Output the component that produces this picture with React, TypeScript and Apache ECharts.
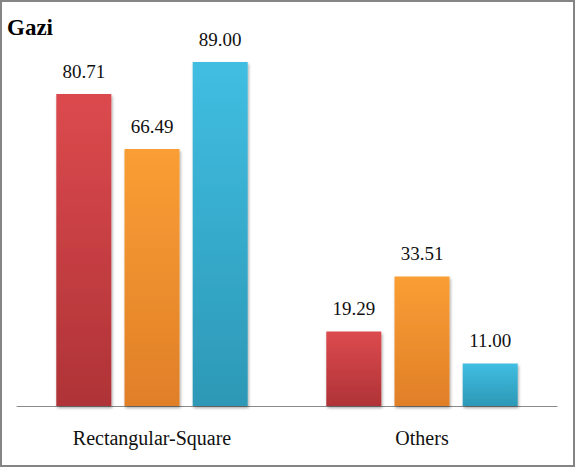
import React, { useEffect, useRef } from "react";
import * as echarts from "echarts";

const categories = ["Rectangular-Square", "Others"];
const seriesRed = [80.71, 19.29];
const seriesOrange = [66.49, 33.51];
const seriesBlue = [89.0, 11.0];

const grad = (top: string, bottom: string) =>
  new echarts.graphic.LinearGradient(0, 0, 0, 1, [
    { offset: 0, color: top },
    { offset: 1, color: bottom },
  ]);

export default function App() {
  const ref = useRef<HTMLDivElement>(null);
  useEffect(() => {
    if (!ref.current) return;
    const chart = echarts.init(ref.current, undefined, { renderer: "svg" });
    const font = "'Liberation Serif', 'Times New Roman', serif";
    const label = {
      show: true,
      position: "top" as const,
      distance: 13,
      fontFamily: font,
      fontSize: 19,
      color: "#111",
      formatter: (p: any) => Number(p.value).toFixed(2),
    };
    const mk = (name: string, data: number[], top: string, bottom: string) => ({
      name,
      type: "bar" as const,
      data,
      barWidth: 55,
      barGap: "24%",
      label,
      itemStyle: {
        color: grad(top, bottom),
        shadowColor: "rgba(0,0,0,0.35)",
        shadowBlur: 3,
        shadowOffsetY: 2,
        shadowOffsetX: 1,
      },
    });
    chart.setOption({
      animation: false,
      backgroundColor: "#fff",
      title: {
        text: "Gazi",
        left: 7,
        top: 16,
        padding: 0,
        textStyle: { fontFamily: font, fontSize: 23, fontWeight: "bold", color: "#000" },
      },
      graphic: [
        {
          type: "rect",
          shape: { x: 1, y: 1, width: 573, height: 465 },
          style: { fill: "none", stroke: "#858585", lineWidth: 2 },
          z: 100,
        },
      ],
      grid: { left: 17, right: 19, top: 19.5, bottom: 62 },
      xAxis: {
        type: "category",
        data: categories,
        axisLine: { show: true, lineStyle: { color: "#8a8a8a", width: 1 } },
        axisTick: { show: false },
        axisLabel: { margin: 22, fontFamily: font, fontSize: 20, color: "#111" },
      },
      yAxis: {
        type: "value",
        min: 0,
        max: 100,
        show: false,
        splitLine: { show: false },
      },
      series: [
        mk("A", seriesRed, "#DC4A4E", "#AF3337"),
        mk("B", seriesOrange, "#FA9E34", "#E07F28"),
        mk("C", seriesBlue, "#40BEE2", "#2D98B6"),
      ],
    });
    return () => chart.dispose();
  }, []);
  return (
    <div
      ref={ref}
      style={{ position: "fixed", left: 0, top: 0, width: 576, height: 468 }}
    />
  );
}
